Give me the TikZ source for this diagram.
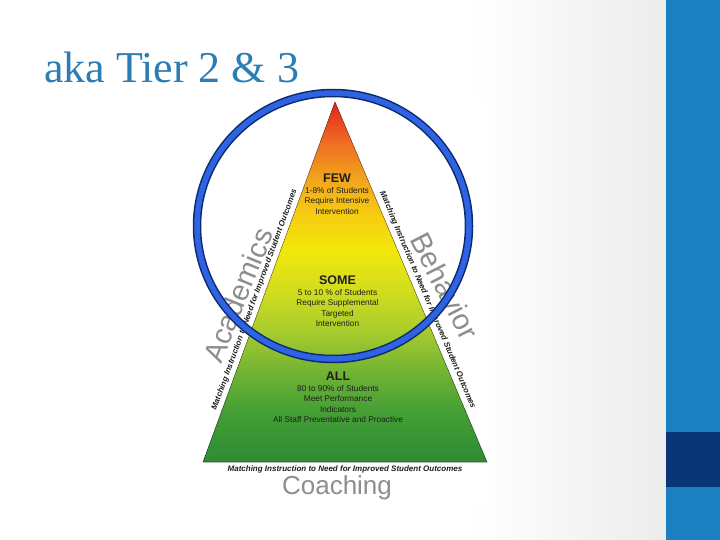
\documentclass[tikz,border=0pt]{standalone}
\usepackage{fontspec}
\setmainfont{Liberation Serif}
\setsansfont{Liberation Sans}
\usepackage{tikz}
\usetikzlibrary{positioning}
\definecolor{titleblue}{HTML}{2A7DB5}
\definecolor{slidegray}{HTML}{ECECEC}
\definecolor{stripblue}{HTML}{1B80C0}
\definecolor{stripnavy}{HTML}{0A3678}
\definecolor{ringblue}{HTML}{2F63E3}
\definecolor{ringnavy}{HTML}{0B2B6E}
\definecolor{tiertext}{HTML}{1E1E1E}
\definecolor{domaingray}{HTML}{8E8E8E}
\definecolor{py0}{HTML}{E41E1E}
\definecolor{py1}{HTML}{EE6A22}
\definecolor{py2}{HTML}{F2A01C}
\definecolor{py3}{HTML}{F6CD12}
\definecolor{py4}{HTML}{F2E80A}
\definecolor{py5}{HTML}{D2DD1E}
\definecolor{py6}{HTML}{A9CC2C}
\definecolor{py7}{HTML}{74B434}
\definecolor{py8}{HTML}{45A035}
\definecolor{py9}{HTML}{2C8A32}

\begin{document}
\begin{tikzpicture}[
  x=1pt, y=-1pt,
  tiername/.style={font=\sffamily\bfseries\fontsize{12.5}{14}\selectfont, text=tiertext, inner sep=0pt},
  tierbody/.style={font=\sffamily\fontsize{8.3}{10.4}\selectfont, align=center, text=tiertext, inner sep=0pt},
  sidelabel/.style={font=\sffamily\bfseries\itshape\fontsize{8}{9}\selectfont, text=tiertext, inner sep=0pt},
  domainname/.style={font=\sffamily\fontsize{29}{30}\selectfont, text=domaingray, inner sep=0pt},
  ring/.style={line width=8.5pt, draw=ringnavy}]
\useasboundingbox (0,0) rectangle (720,540);
% slide background
\fill[white] (0,0) rectangle (666,540);
\fill[left color=white, right color=slidegray] (470,0) rectangle (666,540);
\fill[stripblue] (666,0) rectangle (720,540);
\fill[stripnavy] (666,432) rectangle (720,487);
\node[anchor=base west, font=\fontsize{44}{48}\selectfont, text=titleblue, inner sep=0pt] (title) at (44,83) {aka Tier 2 \& 3};
% pyramid picture
\fill[white] (198,100) rectangle (488,503);
\coordinate (apex) at (335,102);
\coordinate (baseL) at (203,462);
\coordinate (baseR) at (487,462);
\begin{scope}
  \clip (apex) -- (baseR) -- (baseL) -- cycle;
  \fill[top color=py0, bottom color=py1] (198,100) rectangle (490,140.5);
  \fill[top color=py1, bottom color=py2] (198,140) rectangle (490,175.5);
  \fill[top color=py2, bottom color=py3] (198,175) rectangle (490,215.5);
  \fill[top color=py3, bottom color=py4] (198,215) rectangle (490,250.5);
  \fill[top color=py4, bottom color=py5] (198,250) rectangle (490,290.5);
  \fill[top color=py5, bottom color=py6] (198,290) rectangle (490,330.5);
  \fill[top color=py6, bottom color=py7] (198,330) rectangle (490,370.5);
  \fill[top color=py7, bottom color=py8] (198,370) rectangle (490,410.5);
  \fill[top color=py8, bottom color=py9] (198,410) rectangle (490,464);
\end{scope}
\draw[black, opacity=0.3, line width=0.7pt] (apex) -- (baseR) -- (baseL) -- cycle;
% tier texts
\node[tiername] (few) at (337,178) {FEW};
\node[tierbody, below=4.5pt of few] (fewtxt) {1-8\% of Students\\Require Intensive\\Intervention};
\node[tiername] (some) at (337.5,280) {SOME};
\node[tierbody, below=4.5pt of some] (sometxt) {5 to 10 \% of Students\\Require Supplemental\\Targeted\\Intervention};
\node[tiername] (all) at (338,376) {ALL};
\node[tierbody, below=4.5pt of all] (alltxt) {80 to 90\% of Students\\Meet Performance\\Indicators\\All Staff Preventative and Proactive};
% side and base labels
\node[sidelabel, rotate=69.9] (leftlabel) at (254.5,300) {Matching Instruction to Need for Improved Student Outcomes};
\node[sidelabel, rotate=-67.1] (rightlabel) at (427.5,300) {Matching Instruction to Need for Improved Student Outcomes};
\node[sidelabel] (baselabel) at (345,469) {Matching Instruction to Need for Improved Student Outcomes};
\node[domainname, rotate=68] (academics) at (238,295) {Academics};
\node[domainname, rotate=-63] (behavior) at (445,286) {Behavior};
\node[domainname, font=\sffamily\fontsize{26}{28}\selectfont] (coaching) at (337,488) {Coaching};
% highlight ring
\draw[ring] (333,226) ellipse [x radius=136, y radius=133];
\draw[ringblue, line width=5.5pt] (333,226) ellipse [x radius=136, y radius=133];
\end{tikzpicture}
\end{document}
